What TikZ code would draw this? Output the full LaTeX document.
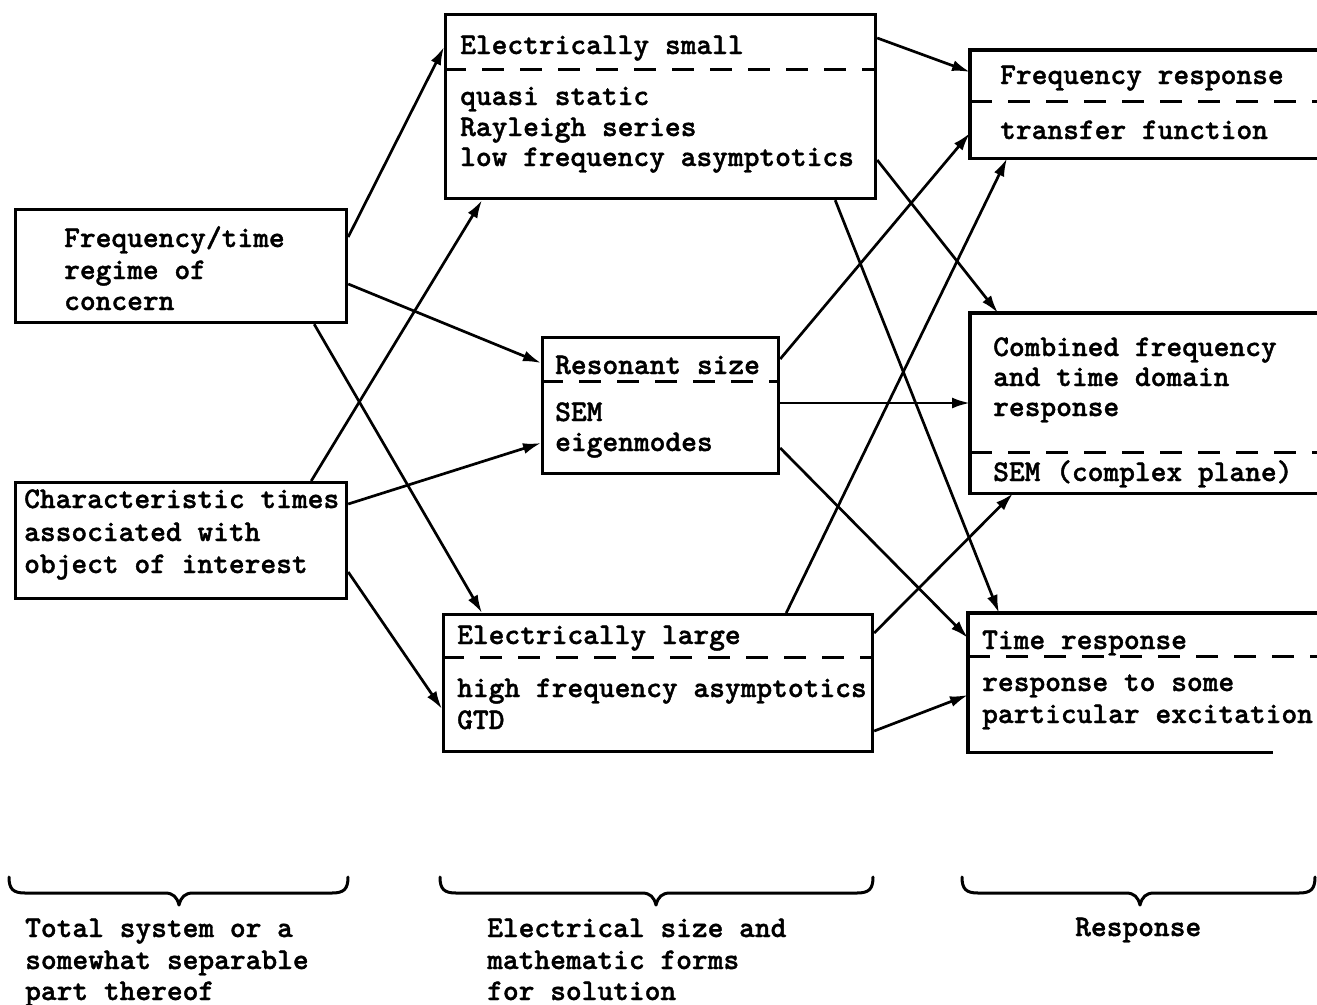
\documentclass[tikz,border=0pt]{standalone}
\usepackage{fontspec}
\newfontfamily\twbold{lmmonolt10-bold.otf}[FakeBold=1.3]
\usetikzlibrary{arrows.meta,calc}
\begin{document}
\begin{tikzpicture}[x=1pt,y=-1pt,
  box/.style={draw, line width=3.2pt, rectangle, anchor=north west, inner sep=0pt},
  openbox/.style={rectangle, anchor=north west, inner sep=0pt},
  edgeline/.style={line width=3.2pt},
  sepline/.style={line width=3pt, dash pattern=on 22pt off 16pt},
  conn/.style={line width=2.7pt, -{Latex[length=18pt,width=11pt]}},
  txt/.style={font=\fontsize{30}{36}\selectfont\twbold, inner sep=0pt, anchor=base west},
  bracestyle/.style={line width=3pt, line cap=round, line join=round}
]
\path[use as bounding box] (0,0) rectangle (1317,1004);
\clip (0,0) rectangle (1317,1004);

% ---------- boxes ----------
\node[box, minimum width=331pt, minimum height=113pt] (ft) at (14,208) {};
\node[box, minimum width=331pt, minimum height=116pt] (ct) at (14,481) {};
\node[box, minimum width=430pt, minimum height=184pt] (es) at (444,13) {};
\node[box, minimum width=236pt, minimum height=136pt] (rs) at (541,336) {};
\node[box, minimum width=429pt, minimum height=137pt] (el) at (442,613) {};
\node[openbox, minimum width=370pt, minimum height=108pt] (fr) at (970,50) {};
\node[openbox, minimum width=370pt, minimum height=180pt] (cb) at (970,313) {};
\node[openbox, minimum width=370pt, minimum height=139pt] (tr) at (968,613) {};
\draw[edgeline] (fr.north east) -- (fr.north west) -- (fr.south west) -- (fr.south east);
\draw[edgeline] (cb.north east) -- (cb.north west) -- (cb.south west) -- (cb.south east);
\draw[edgeline] (tr.north east) -- (tr.north west) -- (tr.south west) -- ($(tr.south west)+(305,0)$);

% ---------- dashed separators ----------
\draw[sepline] ($(es.north west)+(0,56)$) -- ($(es.north east)+(0,56)$);
\draw[sepline] ($(rs.north west)+(0,45)$) -- ($(rs.north east)+(0,45)$);
\draw[sepline] ($(el.north west)+(0,44)$) -- ($(el.north east)+(0,44)$);
\draw[sepline] ($(fr.north west)+(0,51)$) -- ($(fr.north east)+(0,51)$);
\draw[sepline] ($(cb.north west)+(0,139)$) -- ($(cb.north east)+(0,139)$);
\draw[sepline] ($(tr.north west)+(0,43)$) -- ($(tr.north east)+(0,43)$);

% ---------- texts ----------
\node[txt] (ft1) at (64,247) {Frequency/time};
\node[txt] (ft2) at (64,279) {regime of};
\node[txt] (ft3) at (64,310) {concern};

\node[txt] (ct1) at (24,508) {Characteristic times};
\node[txt] (ct2) at (24,541) {associated with};
\node[txt] (ct3) at (24,573) {object of interest};

\node[txt] (es1) at (460,54) {Electrically small};
\node[txt] (es2) at (460,105) {quasi static};
\node[txt] (es3) at (460,136) {Rayleigh series};
\node[txt] (es4) at (460,166) {low frequency asymptotics};

\node[txt] (rs1) at (555,374) {Resonant size};
\node[txt] (rs2) at (555,421) {SEM};
\node[txt] (rs3) at (555,451) {eigenmodes};

\node[txt] (el1) at (457,644) {Electrically large};
\node[txt] (el2) at (457,697) {high frequency asymptotics};
\node[txt] (el3) at (457,729) {GTD};

\node[txt] (fr1) at (1000,84) {Frequency response};
\node[txt] (fr2) at (1000,139) {transfer function};

\node[txt] (cb1) at (993,356) {Combined frequency};
\node[txt] (cb2) at (993,386) {and time domain};
\node[txt] (cb3) at (993,416) {response};
\node[txt] (cb4) at (993,481) {SEM (complex plane)};

\node[txt] (tr1) at (982,649) {Time response};
\node[txt] (tr2) at (982,691) {response to some};
\node[txt] (tr3) at (982,723) {particular excitation};

\node[txt] (b11) at (25,937) {Total system or a};
\node[txt] (b12) at (25,969) {somewhat separable};
\node[txt] (b13) at (25,1000) {part thereof};
\node[txt] (b21) at (487,937) {Electrical size and};
\node[txt] (b22) at (487,969) {mathematic forms};
\node[txt] (b23) at (487,1000) {for solution};
\node[txt] (b31) at (1075,936) {Response};

% ---------- connectors ----------
\draw[conn] ($(ft.north east)+(0,29)$) -- ($(es.north west)+(0,34)$);
\draw[conn] ($(ft.north east)+(0,76)$) -- ($(rs.north west)+(0,27)$);
\draw[conn] ($(ft.south east)+(-34,0)$) -- ($(el.north west)+(40,0)$);
\draw[conn] ($(ct.north east)+(-37,0)$) -- ($(es.south west)+(38,0)$);
\draw[conn] ($(ct.north east)+(0,23)$) -- ($(rs.north west)+(0,107)$);
\draw[conn] ($(ct.north east)+(0,91)$) -- ($(el.north west)+(0,96)$);

\draw[conn] ($(es.north east)+(0,25)$) -- ($(fr.north west)+(0,22)$);
\draw[conn] ($(es.north east)+(0,147)$) -- ($(cb.north west)+(28,0)$);
\draw[conn] ($(es.south east)+(-42,0)$) -- ($(tr.north west)+(31,0)$);

\draw[conn] ($(rs.north east)+(0,23)$) -- ($(fr.north west)+(0,83)$);
\draw[conn] ($(rs.north east)+(0,67)$) -- ($(cb.north west)+(0,90)$);
\draw[conn] ($(rs.north east)+(0,112)$) -- ($(tr.north west)+(0,25)$);

\draw[conn] ($(el.north east)+(-88,0)$) -- ($(fr.south west)+(37,0)$);
\draw[conn] ($(el.north east)+(0,20)$) -- ($(cb.south west)+(43,0)$);
\draw[conn] ($(el.north east)+(0,118)$) -- ($(tr.north west)+(0,82)$);

% ---------- braces ----------
\draw[bracestyle] (9,877) .. controls (9,889) and (13,893) .. (25,893) -- (165,893)
  .. controls (173,893) and (177,897) .. (179,905)
  .. controls (181,897) and (185,893) .. (193,893) -- (332,893)
  .. controls (344,893) and (348,889) .. (348,877);
\draw[bracestyle] (440,877) .. controls (440,889) and (444,893) .. (456,893) -- (642,893)
  .. controls (650,893) and (654,897) .. (656,905)
  .. controls (658,897) and (662,893) .. (670,893) -- (857,893)
  .. controls (869,893) and (873,889) .. (873,877);
\draw[bracestyle] (962,877) .. controls (962,889) and (966,893) .. (978,893) -- (1126,893)
  .. controls (1134,893) and (1138,897) .. (1140,905)
  .. controls (1142,897) and (1146,893) .. (1154,893) -- (1299,893)
  .. controls (1311,893) and (1315,889) .. (1315,877);
\end{tikzpicture}
\end{document}
